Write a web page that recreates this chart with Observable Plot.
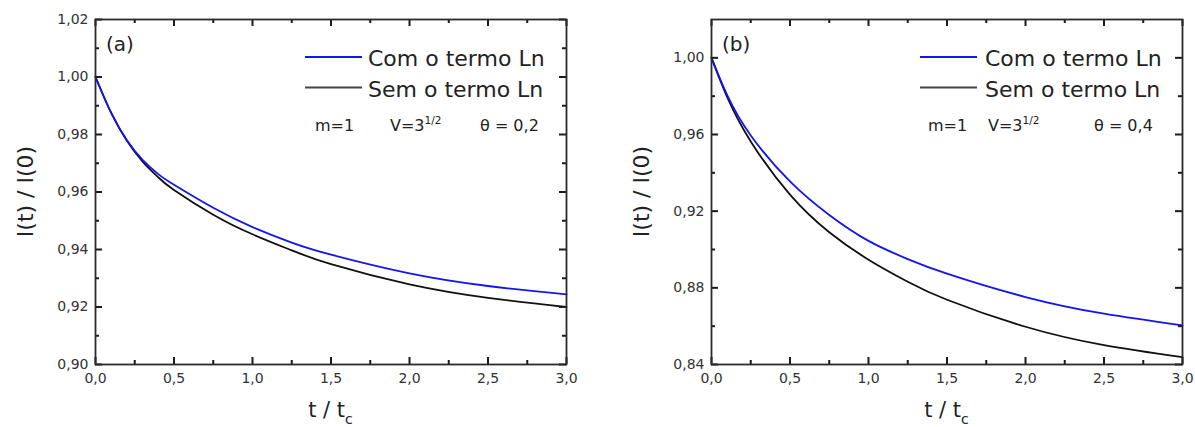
<!DOCTYPE html>
<html><head><meta charset="utf-8">
<script src="https://cdn.jsdelivr.net/npm/d3@7"></script>
<script src="https://cdn.jsdelivr.net/npm/@observablehq/plot@0.6"></script>
<style>
body{margin:0;background:#fff;}
#wrap{position:relative;width:1195px;height:427px;overflow:hidden;font-family:"DejaVu Sans",sans-serif;}
.panel{position:absolute;top:0;}
#overlay{position:absolute;left:0;top:0;pointer-events:none;}
</style></head><body><div id="wrap"></div>
<script>
// ---- data ----
const timeA = [0, 0.1, 0.2, 0.3, 0.4, 0.5, 0.75, 1.0, 1.25, 1.5, 2.0, 2.5, 3.0];
const comLnA = [1.000, 0.9875, 0.9780, 0.9712, 0.9662, 0.9625, 0.9545, 0.9478, 0.9424, 0.9382, 0.9317, 0.9273, 0.9244];
const semLnA = [1.000, 0.9875, 0.9778, 0.9706, 0.9651, 0.9607, 0.9521, 0.9453, 0.9397, 0.9349, 0.9279, 0.9232, 0.9200];

const timeB = [0, 0.1, 0.25, 0.5, 0.75, 1.0, 1.25, 1.5, 2.0, 2.5, 3.0];
const comLnB = [1.000, 0.9805, 0.9595, 0.9355, 0.9180, 0.9045, 0.8950, 0.8874, 0.8752, 0.8665, 0.8604];
const semLnB = [1.000, 0.9795, 0.9564, 0.9286, 0.9090, 0.8947, 0.8832, 0.8738, 0.8597, 0.8501, 0.8438];

const xTicks = [0, 0.5, 1.0, 1.5, 2.0, 2.5, 3.0];
const xMinor = [0.25, 0.75, 1.25, 1.75, 2.25, 2.75];
const yTicksA = [0.90, 0.92, 0.94, 0.96, 0.98, 1.00, 1.02];
const yMinorA = [0.91, 0.93, 0.95, 0.97, 0.99, 1.01];
const yTicksB = [0.84, 0.88, 0.92, 0.96, 1.00];
const yMinorB = [0.86, 0.90, 0.94, 0.98];
const seriesNames = ["Com o termo Ln", "Sem o termo Ln"];
const seriesColors = ["#1414f0", "#111111"];

const comma = (d, n) => d.toFixed(n).replace(".", ",");

function panel({left, width, mL, mR, yDomain, yTicks, yMinor, t, com, sem}) {
  const H = 427, mT = 19, mB = 63;
  const fw = width - mL - mR, fh = H - mT - mB;
  const rowsCom = t.map((x, i) => ({t: x, v: com[i]}));
  const rowsSem = t.map((x, i) => ({t: x, v: sem[i]}));
  const tk = {stroke: "#1a1a1a", strokeWidth: 2};
  const MJ = 7, MN = 4;
  const chart = Plot.plot({
    width, height: H, marginLeft: mL, marginRight: mR, marginTop: mT, marginBottom: mB,
    style: {fontFamily: "DejaVu Sans", fontSize: "14px", color: "#333", background: "transparent"},
    x: {domain: [0, 3]},
    y: {domain: yDomain},
    marks: [
      Plot.line(rowsSem, {x: "t", y: "v", stroke: seriesColors[1], strokeWidth: 1.8, curve: "natural"}),
      Plot.line(rowsCom, {x: "t", y: "v", stroke: seriesColors[0], strokeWidth: 1.8, curve: "natural"}),
      // inward major/minor ticks on all four sides
      Plot.ruleX(xTicks, {x: d => d, insetTop: fh - MJ, ...tk}),
      Plot.ruleX(xTicks, {x: d => d, insetBottom: fh - MJ, ...tk}),
      Plot.ruleX(xMinor, {x: d => d, insetTop: fh - MN, ...tk}),
      Plot.ruleX(xMinor, {x: d => d, insetBottom: fh - MN, ...tk}),
      Plot.ruleY(yTicks, {y: d => d, insetRight: fw - MJ, ...tk}),
      Plot.ruleY(yTicks, {y: d => d, insetLeft: fw - MJ, ...tk}),
      Plot.ruleY(yMinor, {y: d => d, insetRight: fw - MN, ...tk}),
      Plot.ruleY(yMinor, {y: d => d, insetLeft: fw - MN, ...tk}),
      Plot.frame({stroke: "#2a2a2a", strokeWidth: 1.8}),
      Plot.axisX(xTicks, {tickSize: 0, tickPadding: 9, tickFormat: d => comma(d, 1), label: null, fill: "#333"}),
      Plot.axisY(yTicks, {tickSize: 0, tickPadding: 7, tickFormat: d => comma(d, 2), label: null, fill: "#333"})
    ]
  });
  const div = document.createElement("div");
  div.className = "panel";
  div.style.left = left + "px";
  div.appendChild(chart);
  document.getElementById("wrap").appendChild(div);
}

panel({left: 0, width: 590, mL: 95, mR: 24, yDomain: [0.90, 1.02], yTicks: yTicksA, yMinor: yMinorA, t: timeA, com: comLnA, sem: semLnA});
panel({left: 590, width: 605, mL: 121, mR: 13, yDomain: [0.84, 1.02], yTicks: yTicksB, yMinor: yMinorB, t: timeB, com: comLnB, sem: semLnB});

// ---- overlay: axis titles, panel tags, legends, annotations ----
function overlayPanel(o) {
  return `
  <text transform="translate(${o.yTitleX},191.5) rotate(-90)" text-anchor="middle" dy="0.36em" font-size="22" fill="#222">I(t) / I(0)</text>
  <text x="${o.cx}" y="417" text-anchor="middle" font-size="21" fill="#222">t / t<tspan dy="7" font-size="14">c</tspan></text>
  <text x="${o.tagX}" y="51" font-size="20" fill="#222">${o.tag}</text>
  <line x1="${o.lx1}" x2="${o.lx2}" y1="57" y2="57" stroke="${seriesColors[0]}" stroke-width="2"/>
  <text x="${o.tx}" y="66" font-size="22" fill="#222">${seriesNames[0]}</text>
  <line x1="${o.lx1}" x2="${o.lx2}" y1="87.5" y2="87.5" stroke="#444" stroke-width="2.2"/>
  <text x="${o.tx}" y="96.5" font-size="22" fill="#222">${seriesNames[1]}</text>
  <text x="${o.mX}" y="130.5" font-size="16" fill="#222">m=1</text>
  <text x="${o.vX}" y="130.5" font-size="16" fill="#222">V=3<tspan dy="-7" font-size="10.5">1/2</tspan></text>
  <text x="${o.thX}" y="130.5" font-size="16" fill="#222">θ = ${o.theta}</text>`;
}
const ov = `<svg id="overlay" width="1195" height="427" xmlns="http://www.w3.org/2000/svg" font-family="DejaVu Sans">
${overlayPanel({yTitleX: 25, cx: 330.5, tagX: 106, tag: "(a)", lx1: 305, lx2: 362, tx: 368, mX: 315, vX: 390, thX: 480, theta: "0,2"})}
${overlayPanel({yTitleX: 641, cx: 946.5, tagX: 722, tag: "(b)", lx1: 920, lx2: 977, tx: 985, mX: 928, vX: 988, thX: 1094, theta: "0,4"})}
</svg>`;
document.getElementById("wrap").insertAdjacentHTML("beforeend", ov);
</script>
</body></html>
